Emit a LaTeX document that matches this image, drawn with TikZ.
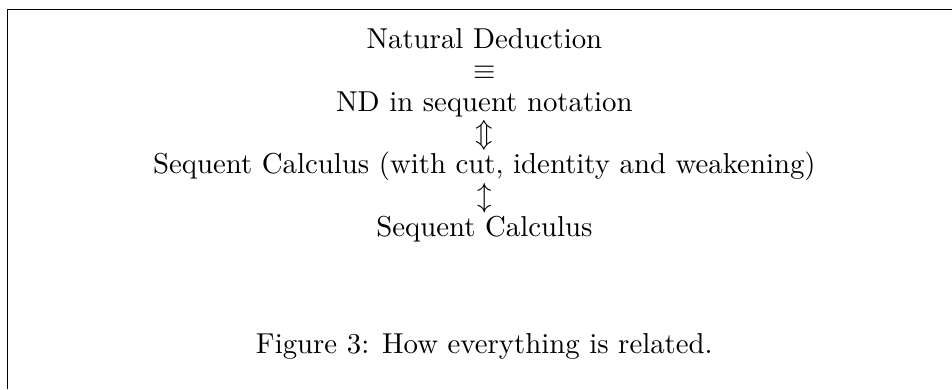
\documentclass[tikz,border=0pt]{standalone}
\usepackage{amsmath}
\usepackage{amssymb}
\usetikzlibrary{positioning}

\begin{document}
\begin{tikzpicture}[
        x=1pt, y=1pt,
        node distance=0pt,
        row/.style={
            text height=7.5pt,
            text depth=3.0pt,
            inner sep=0pt,
            align=center
        }
    ]

    % Frame
    \useasboundingbox (0,0) rectangle (330.6,-135.1);
    \draw[line width=0.4pt] (2.6,-135.1) -- (2.6,-3.3) -- (330.6,-3.3);

    % Nodes
    \node[row, anchor=base] (nd) at (168.2,-16.8) {Natural Deduction};
    \node[row, below=of nd] (equiv) {$\equiv$};
    \node[row, below=of equiv] (ndseq) {ND in sequent notation};
    \node[row, below=of ndseq] (updown) {$\Updownarrow$};
    \node[row, below=of updown] (scfull) {Sequent Calculus (with cut, identity and weakening)};
    \node[row, below=of scfull] (thin) {$\updownarrow$};
    \node[row, below=of thin] (sc) {Sequent Calculus};

    % Caption
    \node[anchor=base] (caption) at (168.2,-122.6) {Figure 3: How everything is related.};

\end{tikzpicture}
\end{document}
